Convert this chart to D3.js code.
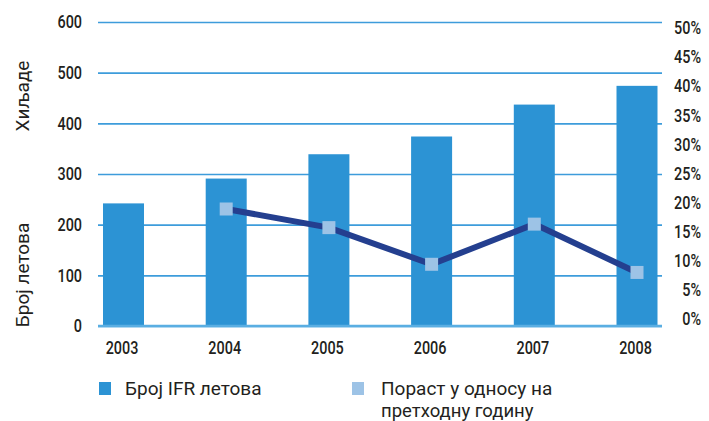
<!DOCTYPE html>
<html>
<head>
<meta charset="utf-8">
<script src="https://cdn.jsdelivr.net/npm/d3@7"></script>
<style>
  body { margin: 0; background: #fff; }
  .tick text { font-family: Roboto, "Noto Sans", sans-serif; font-weight: 500; font-size: 18px; fill: #231f20; }
  .title, .legend text { font-family: Roboto, "Noto Sans", sans-serif; fill: #231f20; }
</style>
</head>
<body>
<div id="viz"></div>
<script>
// chart data
var years = ['2003', '2004', '2005', '2006', '2007', '2008'];
var flights = [242, 291, 339, 374, 437, 474];          // thousands of IFR flights
var growthYears = ['2004', '2005', '2006', '2007', '2008'];
var growth = [0.189, 0.157, 0.094, 0.163, 0.080];       // growth vs previous year
var leftTicks = [0, 100, 200, 300, 400, 500, 600];
var rightTicks = [0, 0.05, 0.10, 0.15, 0.20, 0.25, 0.30, 0.35, 0.40, 0.45, 0.50];
var legendLabels = ['Број IFR летова', 'Пораст у односу на', 'претходну годину'];

var W = 709, H = 421;
var left = 98, right = 662;
var squeeze = 0.8; // tick labels use a narrow face, fake it with scaleX

var svg = d3.select('#viz').append('svg')
  .attr('width', W)
  .attr('height', H);

var x = d3.scalePoint().domain(years).range([123.5, 637]);
var y = d3.scaleLinear().domain([0, 600]).range([326, 22]);
var yR = d3.scaleLinear().domain([0, 0.5]).range([319, 28]);
var barW = 41;

// narrow a tick label around its own x position
function narrow(sel) {
  sel.each(function () {
    var t = d3.select(this);
    var tx = +t.attr('x') || 0;
    t.attr('x', tx / squeeze).attr('transform', 'scale(' + squeeze + ',1)');
  });
}

// gridlines + left axis
var gl = svg.append('g')
  .attr('transform', 'translate(' + left + ',0)')
  .call(d3.axisLeft(y).tickValues(leftTicks).tickSize(-(right - left)).tickPadding(16));
gl.select('.domain').remove();
gl.selectAll('.tick line').attr('stroke', '#3d9cdb').attr('stroke-width', 1.6);
gl.selectAll('.tick text').call(narrow);

// bars
svg.selectAll('.bar')
  .data(flights)
  .enter()
  .append('rect')
  .attr('class', 'bar')
  .attr('x', function (d, i) { return x(years[i]) - barW / 2; })
  .attr('y', function (d) { return y(d); })
  .attr('width', barW)
  .attr('height', function (d) { return y(0) - y(d); })
  .attr('fill', '#2c93d4');

// baseline
svg.append('line')
  .attr('x1', left).attr('x2', right)
  .attr('y1', y(0)).attr('y2', y(0))
  .attr('stroke', '#5aaee2').attr('stroke-width', 2.5);

// right axis (percent)
var gr = svg.append('g')
  .attr('transform', 'translate(' + right + ',0)')
  .call(d3.axisRight(yR).tickValues(rightTicks).tickSize(0).tickFormat(d3.format('.0%')));
gr.select('.domain').remove();
gr.selectAll('.tick text').attr('text-anchor', 'end').attr('x', 39).call(narrow);

// x labels
var gx = svg.append('g')
  .attr('transform', 'translate(-2,338)')
  .call(d3.axisBottom(x).tickSize(0));
gx.select('.domain').remove();
gx.selectAll('.tick text').call(narrow);

// growth line
var line = d3.line()
  .x(function (d, i) { return x(growthYears[i]); })
  .y(function (d) { return yR(d); });

svg.append('path')
  .datum(growth)
  .attr('d', line)
  .attr('fill', 'none')
  .attr('stroke', '#243f8f')
  .attr('stroke-width', 6);

var mk = 13;
svg.selectAll('.mk')
  .data(growth)
  .enter()
  .append('rect')
  .attr('class', 'mk')
  .attr('x', function (d, i) { return x(growthYears[i]) - mk / 2; })
  .attr('y', function (d) { return yR(d) - mk / 2; })
  .attr('width', mk)
  .attr('height', mk)
  .attr('fill', '#9dc3e6');

// axis titles
svg.append('text').attr('class', 'title')
  .attr('transform', 'translate(29,96) rotate(-90)')
  .attr('text-anchor', 'middle')
  .style('font-size', '19px')
  .text('Хиљаде');
svg.append('text').attr('class', 'title')
  .attr('transform', 'translate(29,275) rotate(-90)')
  .attr('text-anchor', 'middle')
  .style('font-size', '19px')
  .text('Број летова');

// legend
var lg = svg.append('g').attr('class', 'legend');
lg.append('rect').attr('x', 99).attr('y', 382).attr('width', 12).attr('height', 13).attr('fill', '#2c93d4');
lg.append('text').attr('x', 125).attr('y', 395).style('font-size', '19px').text(legendLabels[0]);
lg.append('rect').attr('x', 352).attr('y', 382).attr('width', 12).attr('height', 13).attr('fill', '#9dc3e6');
lg.append('text').attr('x', 381).attr('y', 395).style('font-size', '19px').text(legendLabels[1]);
lg.append('text').attr('x', 381).attr('y', 417).style('font-size', '18.5px').text(legendLabels[2]);
</script>
</body>
</html>
